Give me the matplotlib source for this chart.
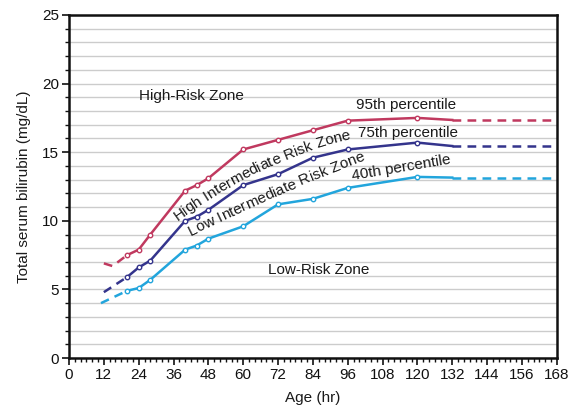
import matplotlib
matplotlib.use("Agg")
import matplotlib.pyplot as plt
import numpy as np
from matplotlib.font_manager import FontProperties
from matplotlib.ticker import MultipleLocator

plt.rcParams["font.family"] = ["Liberation Sans", "DejaVu Sans"]

# Hours with measured points (markers everywhere except the 132 h end point)
HOURS = [20, 24, 28, 40, 44, 48, 60, 72, 84, 96, 120, 132]
P95 = [7.5, 7.9, 9.0, 12.2, 12.6, 13.1, 15.2, 15.9, 16.6, 17.3, 17.5, 17.35]
P75 = [5.9, 6.6, 7.1, 10.0, 10.3, 10.8, 12.6, 13.4, 14.6, 15.2, 15.7, 15.45]
P40 = [4.9, 5.1, 5.7, 7.9, 8.2, 8.7, 9.6, 11.2, 11.6, 12.4, 13.2, 13.15]

# Dashed extrapolated lead-in segments
P95_EARLY_H = [12, 15, 20]
P95_EARLY = [6.9, 6.7, 7.5]
P75_EARLY_H = [12, 20]
P75_EARLY = [4.8, 5.9]
P40_EARLY_H = [11, 20]
P40_EARLY = [4.0, 4.9]
TAIL_END = 168

COLORS = {"p95": "#C0395F", "p75": "#34348C", "p40": "#22A5DC"}
TXT = "#1A1A1A"


def curved_text(ax, text, path_x, path_y, fontsize, start=0.0):
    """Lay characters along a smooth curve through data points."""
    fig = ax.figure
    renderer = fig.canvas.get_renderer()
    fp = FontProperties(family=["Liberation Sans", "DejaVu Sans"], size=fontsize)
    pts = ax.transData.transform(np.column_stack([path_x, path_y]))
    coef = np.polyfit(pts[:, 0], pts[:, 1], 2)
    xs = np.linspace(pts[0, 0], pts[-1, 0] + 200, 2000)
    ys = np.polyval(coef, xs)
    seg = np.hypot(np.diff(xs), np.diff(ys))
    arc = np.concatenate([[0], np.cumsum(seg)])

    def width(s):
        if not s:
            return 0.0
        w, _, _ = renderer.get_text_width_height_descent(s, fp, ismath=False)
        return w

    inv = ax.transData.inverted()
    for i, ch in enumerate(text):
        if ch == " ":
            continue
        cw = width(ch)
        left = width(text[:i + 1]) - cw
        s = start + left + cw / 2
        k = np.searchsorted(arc, s)
        k = min(max(k, 1), len(xs) - 1)
        x0, y0 = xs[k], ys[k]
        slope = 2 * coef[0] * x0 + coef[1]
        ang = np.degrees(np.arctan(slope))
        dx, dy = inv.transform((x0, y0))
        ax.text(dx, dy, ch, rotation=ang, rotation_mode="anchor",
                ha="center", va="baseline", color=TXT, fontproperties=fp)


fig = plt.figure(figsize=(5.8, 4.12), dpi=100)
ax = fig.add_axes([0.119, 0.131, 0.841, 0.8326])

ax.set_xlim(0, 168)
ax.set_ylim(0, 25)
ax.yaxis.set_minor_locator(MultipleLocator(1))
ax.yaxis.set_major_locator(MultipleLocator(5))
ax.xaxis.set_major_locator(MultipleLocator(12))
ax.xaxis.set_minor_locator(MultipleLocator(2))
ax.grid(True, which="both", axis="y", color="#CCCCCC", linewidth=1.0)
ax.set_axisbelow(True)

for sp in ax.spines.values():
    sp.set_linewidth(1.8)
    sp.set_color("#111111")
ax.tick_params(which="major", direction="out", length=5, width=1.2,
               labelsize=11, colors="#111111", pad=2)
ax.tick_params(which="minor", direction="out", length=3, width=1.0,
               colors="#111111")

series = [
    ("p95", P95, P95_EARLY_H, P95_EARLY),
    ("p75", P75, P75_EARLY_H, P75_EARLY),
    ("p40", P40, P40_EARLY_H, P40_EARLY),
]
for key, vals, eh, ev in series:
    c = COLORS[key]
    ax.plot(eh, ev, color=c, lw=1.8, ls=(0, (3.5, 2.5)))
    ax.plot(HOURS, vals, color=c, lw=1.8)
    ax.plot(HOURS[:-1], vals[:-1], ls="none", marker="o", ms=3.2,
            mfc="white", mec=c, mew=1.0)
    ax.plot([HOURS[-1], TAIL_END], [vals[-1], vals[-1]], color=c, lw=1.8,
            ls=(0, (3.5, 2.5)))

FS = 11
ax.text(42.3, 18.8, "High-Risk Zone", fontsize=FS, ha="center",
        va="baseline", color=TXT)
ax.text(85.9, 6.12, "Low-Risk Zone", fontsize=FS, ha="center",
        va="baseline", color=TXT)
ax.text(116.2, 18.13, "95th percentile", fontsize=FS, ha="center",
        va="baseline", color=TXT)
ax.text(116.8, 16.08, "75th percentile", fontsize=FS, ha="center",
        va="baseline", color=TXT)
ax.text(114.5, 13.58, "40th percentile", fontsize=FS, ha="center",
        va="baseline", rotation=9.5, rotation_mode="anchor", color=TXT)

curved_text(ax, "High Intermediate Risk Zone",
            [35.9, 46.8, 55.4, 72.6, 84.0, 96.7],
            [9.82, 11.28, 12.37, 14.31, 15.28, 15.89], 11, start=5)
curved_text(ax, "Low Intermediate Risk Zone",
            [40.5, 50.8, 78.4, 100.8],
            [8.77, 9.69, 12.49, 14.31], 11, start=5)

ax.set_xlabel("Age (hr)", fontsize=FS, color=TXT)
ax.set_ylabel("Total serum bilirubin (mg/dL)", fontsize=FS, color=TXT)
ax.xaxis.set_label_coords(0.5, -0.095)
ax.yaxis.set_label_coords(-0.078, 0.5)

fig.savefig("out.png", dpi=100)
